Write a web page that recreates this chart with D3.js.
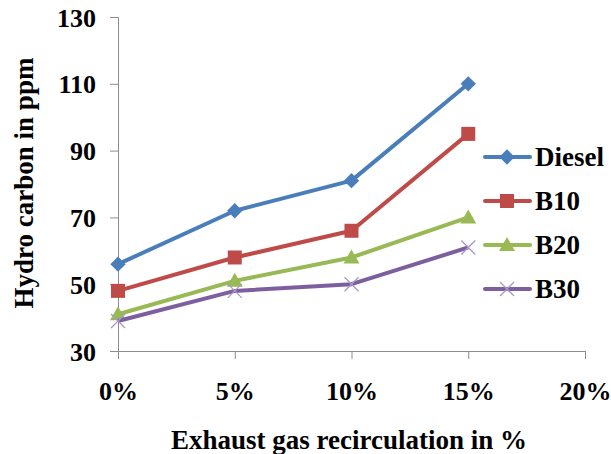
<!DOCTYPE html>
<html>
<head>
<meta charset="utf-8">
<script src="https://cdn.jsdelivr.net/npm/d3@7"></script>
<style>
  html, body { margin: 0; padding: 0; background: #fff; }
  text { font-family: "Liberation Serif", "Times New Roman", serif; font-weight: bold; fill: #000; }
</style>
</head>
<body>
<svg id="chart" width="611" height="454"></svg>
<script>
// EGR rate (%) and hydrocarbon emission (ppm) per fuel blend
const egr = [0, 5, 10, 15];
const diesel = [56, 72, 81, 110];
const b10 = [48, 58, 66, 95];
const b20 = [41, 51, 58, 70];
const b30 = [39, 48, 50, 61];
const xTicks = [0, 5, 10, 15, 20];
const yTicks = [30, 50, 70, 90, 110, 130];
const seriesNames = ["Diesel", "B10", "B20", "B30"];

const series = [
  { name: seriesNames[0], values: diesel, color: "#4A7EBB", marker: "diamond" },
  { name: seriesNames[1], values: b10, color: "#BE4B48", marker: "square" },
  { name: seriesNames[2], values: b20, color: "#98B954", marker: "triangle" },
  { name: seriesNames[3], values: b30, color: "#7D5FA0", marker: "cross" }
];

const serif = '"Liberation Serif", "Times New Roman", serif';
const svg = d3.select("#chart");
const x = d3.scaleLinear().domain([0, 20]).range([118, 585]);
const y = d3.scaleLinear().domain([30, 130]).range([351, 17]);

const axisColor = "#8c8c8c";

// x axis
const gx = svg.append("g").attr("transform", `translate(0,${y(30)})`)
  .call(d3.axisBottom(x).tickValues(xTicks).tickSize(8).tickSizeOuter(0).tickFormat(d => d + "%"));
gx.attr("font-family", serif).attr("font-weight", "bold");
gx.select(".domain").attr("stroke", axisColor);
gx.selectAll(".tick line").attr("stroke", axisColor);
gx.selectAll(".tick text").attr("font-size", 26).attr("y", 0).attr("dy", 0)
  .attr("transform", "translate(0,49)");

// y axis
const gy = svg.append("g").attr("transform", `translate(${x(0)},0)`)
  .call(d3.axisLeft(y).tickValues(yTicks).tickSize(8).tickSizeOuter(0));
gy.attr("font-family", serif).attr("font-weight", "bold");
gy.select(".domain").attr("stroke", axisColor);
gy.selectAll(".tick line").attr("stroke", axisColor);
gy.selectAll(".tick text").attr("font-size", 26).attr("x", -22).attr("dy", "0.35em");

// axis titles
svg.append("text").attr("x", 349).attr("y", 449).attr("text-anchor", "middle")
  .attr("font-size", 27).text("Exhaust gas recirculation in %");
svg.append("text").attr("transform", "translate(33,183) rotate(-90)").attr("text-anchor", "middle")
  .attr("font-size", 27).text("Hydro carbon in ppm");

// markers
function drawMarker(g, type, color, cx, cy) {
  if (type === "diamond") {
    g.append("path").attr("d", d3.symbol().type(d3.symbolDiamond2).size(150)())
      .attr("transform", `translate(${cx},${cy})`).attr("fill", color);
  } else if (type === "square") {
    g.append("rect").attr("x", cx - 7).attr("y", cy - 7).attr("width", 14).attr("height", 14)
      .attr("fill", color);
  } else if (type === "triangle") {
    g.append("path").attr("d", `M${cx},${cy - 8}L${cx + 8},${cy + 6}L${cx - 8},${cy + 6}Z`)
      .attr("fill", color);
  } else if (type === "cross") {
    g.append("path").attr("d", `M${cx - 7},${cy - 7}L${cx + 7},${cy + 7}M${cx - 7},${cy + 7}L${cx + 7},${cy - 7}`)
      .attr("stroke", "#a899c8").attr("stroke-width", 1.3).attr("fill", "none");
  }
}

const line = d3.line().x((d, i) => x(egr[i])).y(d => y(d));

series.forEach(s => {
  const g = svg.append("g");
  g.append("path").datum(s.values).attr("d", line)
    .attr("fill", "none").attr("stroke", s.color).attr("stroke-width", 4).attr("stroke-linejoin", "round");
  s.values.forEach((v, i) => drawMarker(g, s.marker, s.color, x(egr[i]), y(v)));
});

// legend
series.forEach((s, i) => {
  const ly = 157 + i * 44;
  const g = svg.append("g");
  g.append("line").attr("x1", 485).attr("x2", 530).attr("y1", ly).attr("y2", ly)
    .attr("stroke", s.color).attr("stroke-width", 4).attr("stroke-linecap", "round");
  drawMarker(g, s.marker, s.color, 507, ly);
  g.append("text").attr("x", 535).attr("y", ly).attr("dy", "0.35em").attr("font-size", 27).text(s.name);
});
</script>
</body>
</html>
